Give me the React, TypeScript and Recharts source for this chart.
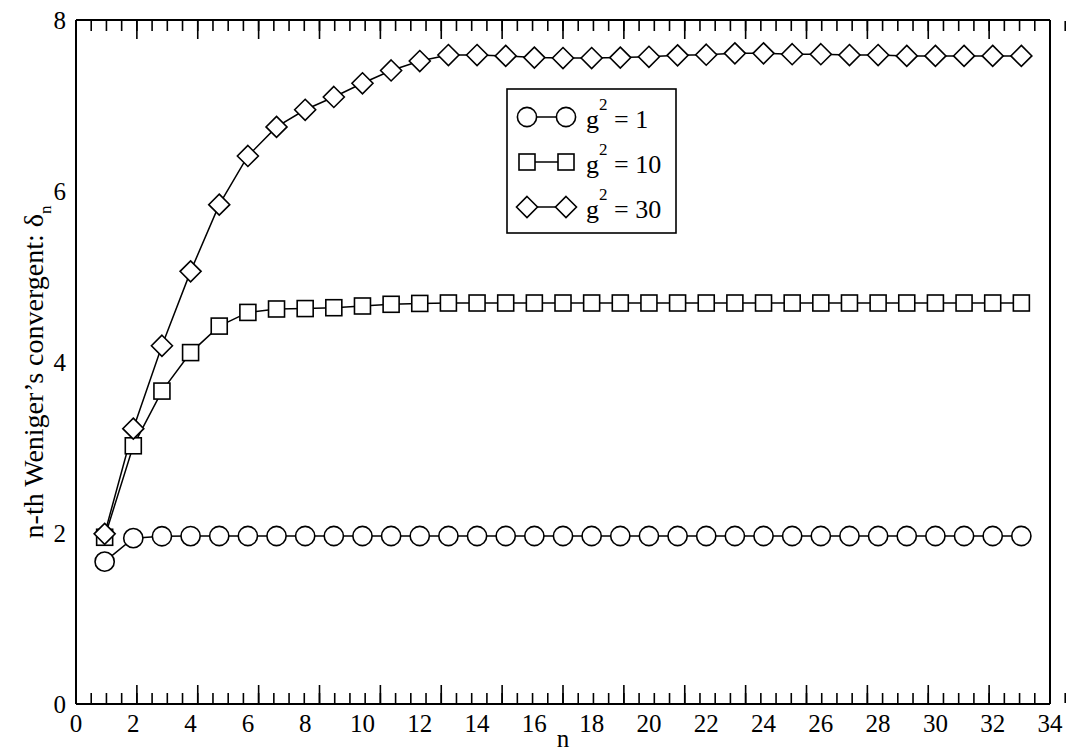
import React from "react";
import { LineChart, Line, XAxis, YAxis, Legend, Label } from "recharts";

// n-th convergent index
const nValues = [
  1, 2, 3, 4, 5, 6, 7, 8, 9, 10, 11, 12, 13, 14, 15, 16, 17, 18, 19, 20, 21,
  22, 23, 24, 25, 26, 27, 28, 29, 30, 31, 32, 33,
];

// delta_n for g^2 = 1
const deltaG1 = [
  1.665, 1.94, 1.962, 1.964, 1.965, 1.965, 1.965, 1.965, 1.965, 1.965, 1.965,
  1.965, 1.965, 1.965, 1.965, 1.965, 1.965, 1.965, 1.965, 1.965, 1.965, 1.965,
  1.965, 1.965, 1.965, 1.965, 1.965, 1.965, 1.965, 1.965, 1.965, 1.965, 1.965,
];

// delta_n for g^2 = 10
const deltaG10 = [
  1.95, 3.02, 3.66, 4.11, 4.42, 4.58, 4.62, 4.625, 4.635, 4.655, 4.675, 4.685,
  4.69, 4.69, 4.69, 4.69, 4.69, 4.69, 4.69, 4.69, 4.69, 4.69, 4.69, 4.69, 4.69,
  4.69, 4.69, 4.69, 4.69, 4.69, 4.69, 4.69, 4.69,
];

// delta_n for g^2 = 30
const deltaG30 = [
  1.99, 3.22, 4.19, 5.06, 5.84, 6.41, 6.75, 6.95, 7.1, 7.26, 7.41, 7.52, 7.59,
  7.59, 7.58, 7.56, 7.555, 7.555, 7.56, 7.57, 7.587, 7.594, 7.61, 7.61, 7.6,
  7.6, 7.59, 7.59, 7.58, 7.58, 7.58, 7.58, 7.58,
];

const xTicks = [0, 2, 4, 6, 8, 10, 12, 14, 16, 18, 20, 22, 24, 26, 28, 30, 32, 34];
const yTicks = [0, 2, 4, 6, 8];
const xMinorTicks = Array.from({ length: 69 }, (_, i) => i * 0.5);
const yMinorTicks = Array.from({ length: 21 }, (_, i) => +(i * 0.4).toFixed(1));

const data = nValues.map((n, i) => ({
  n,
  g1: deltaG1[i],
  g10: deltaG10[i],
  g30: deltaG30[i],
}));

const FONT = "Liberation Serif, DejaVu Serif, serif";
const INK = "#000";

const CircleMark = ({ cx, cy }: { cx?: number; cy?: number }) =>
  cx == null || cy == null ? null : (
    <circle cx={cx} cy={cy} r={9.6} fill="#fff" stroke={INK} strokeWidth={1.6} />
  );

const SquareMark = ({ cx, cy }: { cx?: number; cy?: number }) =>
  cx == null || cy == null ? null : (
    <rect x={cx - 8} y={cy - 8} width={16} height={16} fill="#fff" stroke={INK} strokeWidth={1.6} />
  );

const DiamondMark = ({ cx, cy }: { cx?: number; cy?: number }) =>
  cx == null || cy == null ? null : (
    <path
      d={`M${cx},${cy - 10.5}L${cx + 10.5},${cy}L${cx},${cy + 10.5}L${cx - 10.5},${cy}Z`}
      fill="#fff"
      stroke={INK}
      strokeWidth={1.6}
    />
  );

const series = [
  { key: "g1", value: "1", Mark: CircleMark },
  { key: "g10", value: "10", Mark: SquareMark },
  { key: "g30", value: "30", Mark: DiamondMark },
];

const NoLabel = () => <g />;

const LegendBox = () => (
  <svg width={171} height={146} style={{ display: "block" }}>
    <rect x={1} y={1} width={169} height={144} fill="#fff" stroke={INK} strokeWidth={1.6} />
    {series.map(({ key, value, Mark }, i) => {
      const cy = 29 + i * 45;
      return (
        <g key={key}>
          <line x1={21} x2={60} y1={cy} y2={cy} stroke={INK} strokeWidth={1.5} />
          <Mark cx={21} cy={cy} />
          <Mark cx={60} cy={cy} />
          <text x={80} y={cy + 11} style={{ fontFamily: FONT }} fontSize={26} fill={INK}>
            g
            <tspan dy={-18} fontSize={17}>2</tspan>
            <tspan dy={18}>{` = ${value}`}</tspan>
          </text>
        </g>
      );
    })}
  </svg>
);

const YTitle = ({ viewBox }: any) => {
  const x = 43;
  const y = viewBox.y + viewBox.height / 2 + 10;
  return (
    <text
      x={x}
      y={y}
      transform={`rotate(-90 ${x} ${y})`}
      textAnchor="middle"
      style={{ fontFamily: FONT }}
      fontSize={28}
      fill={INK}
    >
      n-th Weniger’s convergent: δ
      <tspan dy={8} fontSize={17}>n</tspan>
    </text>
  );
};

const XTitle = ({ viewBox }: any) => (
  <text
    x={viewBox.x + viewBox.width / 2}
    y={747}
    textAnchor="middle"
    style={{ fontFamily: FONT }}
    fontSize={25}
    fill={INK}
  >
    n
  </text>
);

const tickFont = { fontFamily: FONT, fontSize: 25, fill: INK, style: { fontFamily: FONT } };
const frame = { stroke: INK, strokeWidth: 2 };
const tickStroke = { stroke: INK, strokeWidth: 1.6 };

export default function App() {
  return (
    <div style={{ position: "absolute", left: 0, top: 0, background: "#fff", fontFamily: FONT }}>
      <LineChart
        width={1066}
        height={753}
        data={data}
        margin={{ top: 20, right: 16, bottom: 0, left: 0 }}
      >
        {/* labelled axes */}
        <XAxis
          xAxisId="main"
          dataKey="n"
          type="number"
          domain={[0, 34]}
          ticks={xTicks}
          interval={0}
          height={49}
          tickLine={false}
          tickSize={0}
          tickMargin={10}
          axisLine={frame}
          tick={tickFont}
        >
          <Label content={<XTitle />} />
        </XAxis>
        <YAxis
          yAxisId="main"
          type="number"
          domain={[0, 8]}
          ticks={yTicks}
          interval={0}
          width={76}
          tickLine={false}
          tickSize={0}
          tickMargin={10}
          axisLine={frame}
          tick={tickFont}
        >
          <Label content={<YTitle />} />
        </YAxis>

        {/* inward tick marks on all four sides */}
        <XAxis xAxisId="bMaj" type="number" domain={[0, 34]} ticks={xTicks} interval={0}
          orientation="bottom" mirror height={1} tickSize={19} tickLine={tickStroke} axisLine={false} tick={NoLabel} />
        <XAxis xAxisId="bMin" type="number" domain={[0, 34]} ticks={xMinorTicks} interval={0}
          orientation="bottom" mirror height={1} tickSize={10} tickLine={tickStroke} axisLine={false} tick={NoLabel} />
        <XAxis xAxisId="tMaj" type="number" domain={[0, 34]} ticks={xTicks} interval={0}
          orientation="top" mirror height={1} tickSize={19} tickLine={tickStroke} axisLine={frame} tick={NoLabel} />
        <XAxis xAxisId="tMin" type="number" domain={[0, 34]} ticks={xMinorTicks} interval={0}
          orientation="top" mirror height={1} tickSize={10} tickLine={tickStroke} axisLine={false} tick={NoLabel} />
        <YAxis yAxisId="lMaj" type="number" domain={[0, 8]} ticks={yTicks} interval={0}
          orientation="left" mirror width={1} tickSize={19} tickLine={tickStroke} axisLine={false} tick={NoLabel} />
        <YAxis yAxisId="lMin" type="number" domain={[0, 8]} ticks={yMinorTicks} interval={0}
          orientation="left" mirror width={1} tickSize={10} tickLine={tickStroke} axisLine={false} tick={NoLabel} />
        <YAxis yAxisId="rMaj" type="number" domain={[0, 8]} ticks={yTicks} interval={0}
          orientation="right" mirror width={1} tickSize={19} tickLine={tickStroke} axisLine={frame} tick={NoLabel} />
        <YAxis yAxisId="rMin" type="number" domain={[0, 8]} ticks={yMinorTicks} interval={0}
          orientation="right" mirror width={1} tickSize={10} tickLine={tickStroke} axisLine={false} tick={NoLabel} />

        {series.map(({ key, Mark }) => (
          <Line
            key={key}
            xAxisId="main"
            yAxisId="main"
            dataKey={key}
            type="linear"
            stroke={INK}
            strokeWidth={1.5}
            dot={(p: any) => <Mark key={`${key}-${p.index}`} cx={p.cx} cy={p.cy} />}
            activeDot={false}
            isAnimationActive={false}
          />
        ))}

        <Legend
          layout="vertical"
          align="center"
          verticalAlign="middle"
          content={() => <LegendBox />}
          wrapperStyle={{ left: 506, top: 88, width: 171, height: 146 }}
        />
      </LineChart>
    </div>
  );
}
